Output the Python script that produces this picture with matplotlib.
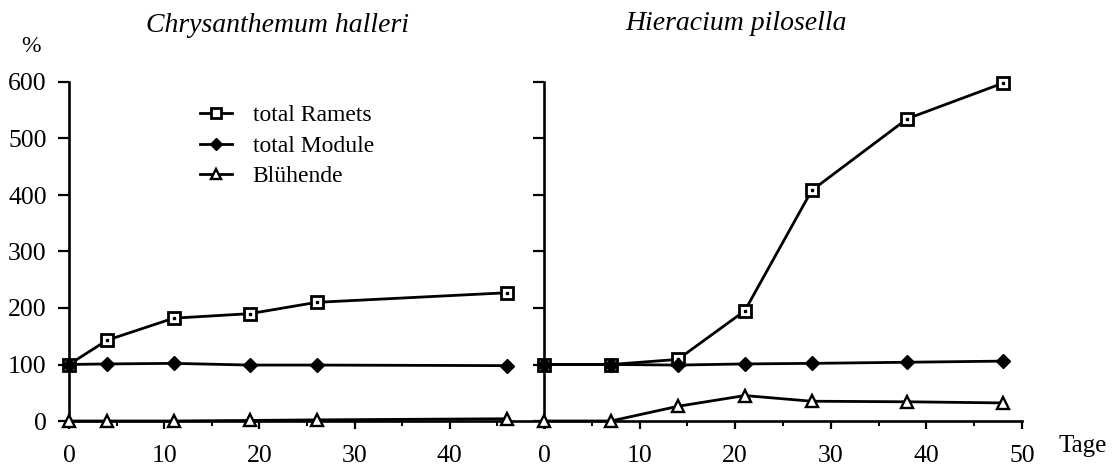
import matplotlib
matplotlib.use("Agg")
import matplotlib.pyplot as plt
from matplotlib.ticker import MultipleLocator

plt.rcParams["font.family"] = ["Liberation Serif", "DejaVu Serif"]

# Chrysanthemum halleri
ch_days = [0, 4, 11, 19, 26, 46]
ch_ramets = [100, 143, 182, 190, 210, 227]
ch_module = [100, 101, 102, 99, 99, 98]
ch_bluehende = [0, 0, 0, 1, 2, 4]

# Hieracium pilosella
hp_days = [0, 7, 14, 21, 28, 38, 48]
hp_ramets = [100, 100, 109, 195, 408, 535, 598]
hp_module = [100, 100, 99, 101, 102, 104, 106]
hp_bluehende = [0, 0, 26, 45, 35, 34, 32]

labels = ["total Ramets", "total Module", "Blühende"]
yticks = [0, 100, 200, 300, 400, 500, 600]

fig = plt.figure(figsize=(11.12, 4.70), dpi=100)
axL = fig.add_axes([69/1112, 49/470, 476/1112, 339/470])
axR = fig.add_axes([544/1112, 49/470, 478/1112, 339/470])

LW = 2.0
sq = dict(marker="s", ms=9, mfc="white", mec="black", mew=2.0, color="black", lw=LW)
dm = dict(marker="D", ms=7.5, mfc="black", mec="black", color="black", lw=LW)
tr = dict(marker="^", ms=8.5, mfc="white", mec="black", mew=1.7, color="black", lw=LW)

def draw(ax, x, ram, mod, blu):
    h1, = ax.plot(x, ram, clip_on=False, zorder=3, **sq)
    ax.plot(x, ram, ls="none", marker="s", ms=1.8, color="black", clip_on=False, zorder=4)
    h2, = ax.plot(x, mod, clip_on=False, zorder=5, **dm)
    h3, = ax.plot(x, blu, clip_on=False, zorder=3, **tr)
    return h1, h2, h3

hs = draw(axL, ch_days, ch_ramets, ch_module, ch_bluehende)
draw(axR, hp_days, hp_ramets, hp_module, hp_bluehende)

for ax in (axL, axR):
    ax.set_xlim(0, 50)
    ax.set_ylim(0, 600)
    ax.set_yticks(yticks)
    ax.xaxis.set_major_locator(MultipleLocator(10))
    ax.xaxis.set_minor_locator(MultipleLocator(5))
    for s in ("top", "right"):
        ax.spines[s].set_visible(False)
    for s in ("left", "bottom"):
        ax.spines[s].set_linewidth(1.9)
    ax.tick_params(which="major", direction="out", length=6, width=1.6,
                   labelsize=18.5)
    ax.tick_params(which="minor", direction="out", length=3.5, width=1.4)
    ax.tick_params(axis="x", pad=11)
    ax.tick_params(axis="y", length=8, pad=8)
    ax.patch.set_visible(False)

axL.set_xticks([0, 10, 20, 30, 40, 50])
axL.set_xticklabels(["0", "10", "20", "30", "40", ""])
axR.set_yticklabels([])

fig.text(277/1112, 1 - 25/470, "Chrysanthemum halleri", fontsize=20,
         style="italic", ha="center", va="center")
fig.text(736/1112, 1 - 24/470, "Hieracium pilosella", fontsize=20,
         style="italic", ha="center", va="center")
fig.text(31/1112, 1 - 46/470, "%", fontsize=17, ha="center", va="center")
fig.text(1083/1112, 1 - 446/470, "Tage", fontsize=18, ha="center", va="center")

axL.legend(hs, labels, loc="upper left", bbox_to_anchor=(0.23, 0.995),
           frameon=False, fontsize=17, handlelength=1.35, handletextpad=0.9,
           labelspacing=0.38, markerscale=0.8)

fig.savefig("out.png", dpi=100)
